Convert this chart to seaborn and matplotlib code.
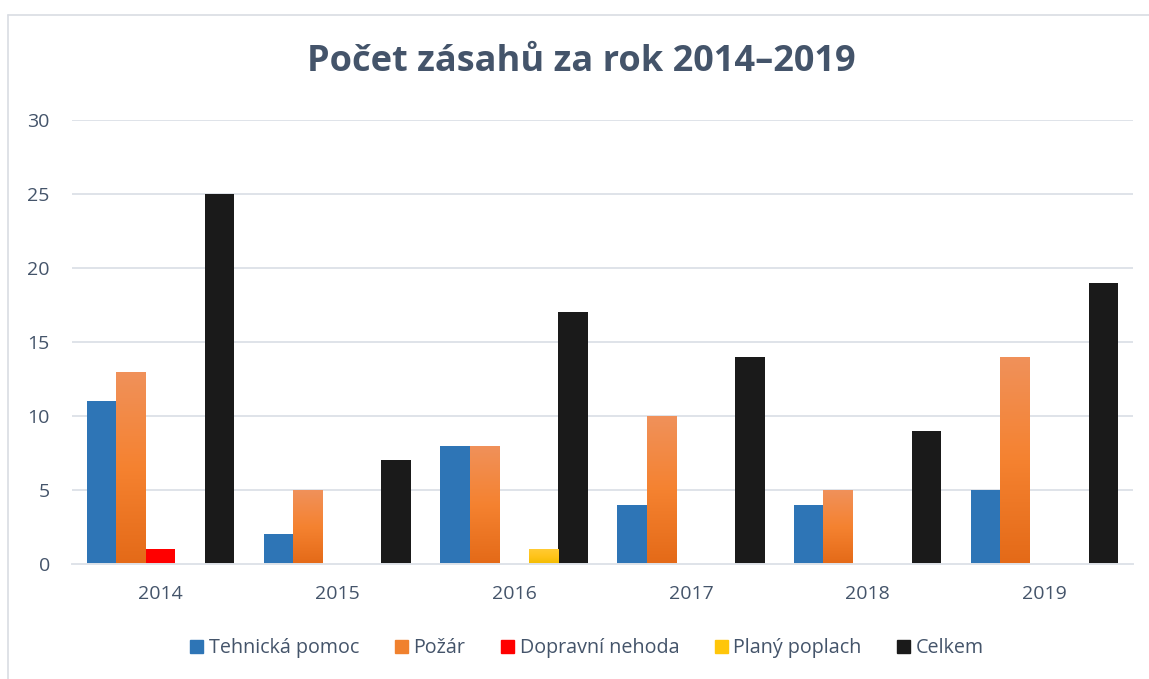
import matplotlib
matplotlib.use("Agg")
import matplotlib.pyplot as plt
import numpy as np
import pandas as pd
import seaborn as sns
from matplotlib.colors import LinearSegmentedColormap
from matplotlib.lines import Line2D

years = ["2014", "2015", "2016", "2017", "2018", "2019"]
series = ["Tehnická pomoc", "Požár", "Dopravní nehoda", "Planý poplach", "Celkem"]
tech_pomoc = [11, 2, 8, 4, 4, 5]
pozar = [13, 5, 8, 10, 5, 14]
dopravni = [1, 0, 0, 0, 0, 0]
plany = [0, 0, 1, 0, 0, 0]
celkem = [25, 7, 17, 14, 9, 19]

colors = ["#2E75B6", "#F0812E", "#FF0000", "#FFC60A", "#1A1A1A"]
gradients = {1: ("#F0915A", "#F58230", "#E46A18"), 3: ("#FFCB33", "#FFC41A", "#F2BC00")}
text_col = "#44546A"
grid_col = "#DFE3E9"

df = pd.DataFrame({"rok": years * 5,
                   "serie": np.repeat(series, 6),
                   "pocet": tech_pomoc + pozar + dopravni + plany + celkem})

sns.set_style("white")
plt.rcParams["font.family"] = ["Open Sans", "DejaVu Sans"]

fig = plt.figure(figsize=(11.49, 6.79), dpi=100)
ax = fig.add_axes([0.0627, 0.1694, 0.9233, 0.6539])

sns.barplot(data=df, x="rok", y="pocet", hue="serie", palette=colors,
            width=0.834, ax=ax, errorbar=None, saturation=1, legend=False, linewidth=0)

# gradient fill for orange / yellow bars
for i, cont in enumerate(ax.containers):
    if i not in gradients:
        continue
    cmap = LinearSegmentedColormap.from_list("g%d" % i, list(gradients[i]))
    for p in cont.patches:
        h = p.get_height()
        if h <= 0:
            continue
        x0 = p.get_x()
        im = ax.imshow(np.linspace(0, 1, 100).reshape(-1, 1), cmap=cmap, aspect="auto",
                       extent=(x0, x0 + p.get_width(), 0, h), origin="upper", zorder=p.get_zorder() + 0.1)
        im.set_clip_path(p)

ax.set_xlim(-0.5, 5.5)
ax.set_ylim(0, 30)
ax.set_yticks([0, 5, 10, 15, 20, 25, 30])
ax.yaxis.grid(True, color=grid_col, linewidth=1.4)
ax.set_axisbelow(True)
for s in ["left", "right", "top"]:
    ax.spines[s].set_visible(False)
ax.spines["bottom"].set_color(grid_col)
ax.spines["bottom"].set_linewidth(1.4)
ax.tick_params(axis="both", length=0, labelsize=14, labelcolor=text_col)
ax.tick_params(axis="y", pad=16)
ax.tick_params(axis="x", pad=15)
ax.set_xlabel("")
ax.set_ylabel("")

fig.text(0.506, 0.908, "Počet zásahů za rok 2014–2019", ha="center", va="center",
         fontsize=26, fontweight="bold", color=text_col)

handles = [plt.Rectangle((0, 0), 1, 1, color=c) for c in colors]
fig.legend(handles, series, loc="center", bbox_to_anchor=(0.511, 0.045), ncol=5,
           frameon=False, fontsize=14.2, labelcolor=text_col, handlelength=0.65,
           handleheight=0.65, handletextpad=0.3, columnspacing=1.8)

# outer chart frame
fig.add_artist(Line2D([8 / 1149, 8 / 1149], [0, 1 - 15 / 679], transform=fig.transFigure, color="#D9DDE3", linewidth=1.2))
fig.add_artist(Line2D([8 / 1149, 1], [1 - 15 / 679, 1 - 15 / 679], transform=fig.transFigure, color="#D9DDE3", linewidth=1.2))

fig.savefig("out.png", dpi=100)
